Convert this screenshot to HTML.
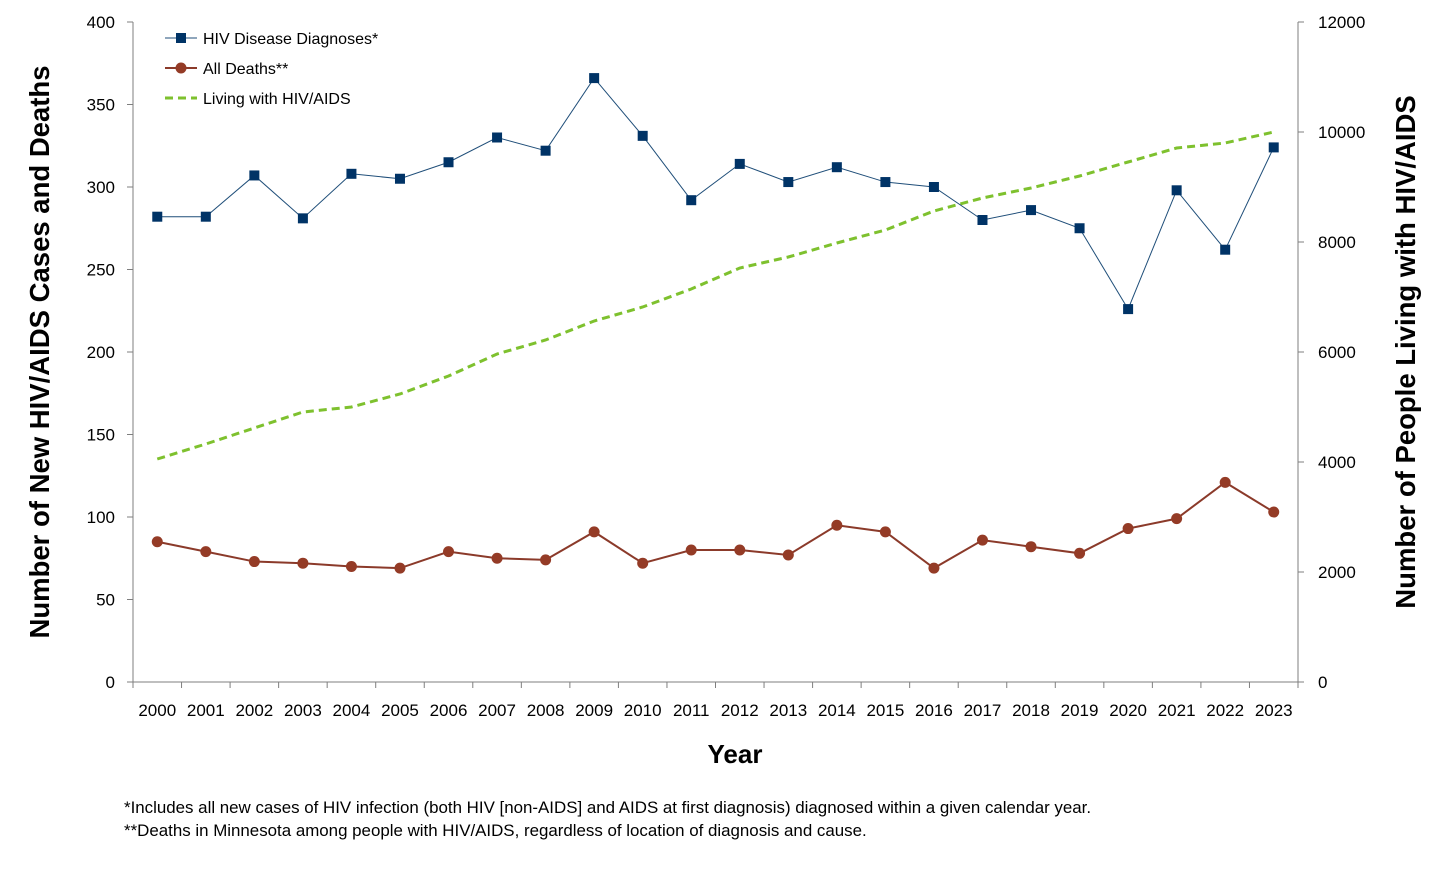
<!DOCTYPE html>
<html><head><meta charset="utf-8"><style>
body{margin:0;background:#fff;width:1440px;height:864px;overflow:hidden}
text{font-family:"Liberation Sans",sans-serif}
</style></head><body>
<svg width="1440" height="864" xmlns="http://www.w3.org/2000/svg" id="s">
<g stroke="#7f7f7f" stroke-width="1" fill="none">
<line x1="133" y1="22" x2="133" y2="682"/>
<line x1="1298" y1="22" x2="1298" y2="682"/>
<line x1="133" y1="682" x2="1298" y2="682"/>
</g>
<g id="ticks" stroke="#7f7f7f"></g>
<g id="lab" font-size="17" fill="#000"></g>
<text x="735" y="763" font-size="26" font-weight="bold" text-anchor="middle">Year</text>
<text transform="translate(49,352) rotate(-90)" font-size="27.5" font-weight="bold" text-anchor="middle">Number of New HIV/AIDS Cases and Deaths</text>
<text transform="translate(1415,352) rotate(-90)" font-size="27.5" font-weight="bold" text-anchor="middle">Number of People Living with HIV/AIDS</text>
<text x="124" y="813" font-size="16.9">*Includes all new cases of HIV infection (both HIV [non-AIDS] and AIDS at first diagnosis) diagnosed within a given calendar year.</text>
<text x="124" y="836" font-size="16.9">**Deaths in Minnesota among people with HIV/AIDS, regardless of location of diagnosis and cause.</text>
<g id="series"></g>
<g font-size="16">
<line x1="165" y1="38" x2="197" y2="38" stroke="#1f4e79"/><rect x="176" y="33" width="10" height="10" fill="#003366"/>
<text x="203" y="44">HIV Disease Diagnoses*</text>
<line x1="165" y1="68" x2="197" y2="68" stroke="#8b3a2a" stroke-width="2"/><circle cx="181" cy="68" r="5.5" fill="#943b26"/>
<text x="203" y="74">All Deaths**</text>
<line x1="165" y1="98" x2="197" y2="98" stroke="#7ec12e" stroke-width="3" stroke-dasharray="8,5"/>
<text x="203" y="104">Living with HIV/AIDS</text>
</g>
</svg>
<script>
var ns="http://www.w3.org/2000/svg";
function el(p,t,a,txt){var e=document.createElementNS(ns,t);for(var k in a)e.setAttribute(k,a[k]);if(txt!=null)e.textContent=txt;document.getElementById(p).appendChild(e);return e;}
var sp=(1298-133)/24;
for(var i=0;i<=24;i++)el("ticks","line",{x1:133+sp*i,y1:682,x2:133+sp*i,y2:688});
for(var v=0;v<=400;v+=50){var y=682-v*1.65;el("ticks","line",{x1:127,y1:y,x2:133,y2:y});el("lab","text",{x:115,y:y+6,"text-anchor":"end"},v);}
for(var v=0;v<=12000;v+=2000){var y=682-v*0.055;el("ticks","line",{x1:1298,y1:y,x2:1304,y2:y});el("lab","text",{x:1318,y:y+6},v);}
for(var i=0;i<24;i++)el("lab","text",{x:133+sp*(i+0.5),y:716,"text-anchor":"middle"},2000+i);
var hiv=[282,282,307,281,308,305,315,330,322,366,331,292,314,303,312,303,300,280,286,275,226,298,262,324];
var de=[85,79,73,72,70,69,79,75,74,91,72,80,80,77,95,91,69,86,82,78,93,99,121,103];
var lv=[459,444,428,412,407,394,376,354,340,321,307,289,268,257,243,230,211,198,188,176,162,148,143,132];
function X(i){return 133+sp*(i+0.5);}
el("series","polyline",{points:lv.map((y,i)=>X(i)+","+y).join(" "),fill:"none",stroke:"#7ec12e","stroke-width":3,"stroke-dasharray":"8,5"});
el("series","polyline",{points:hiv.map((v,i)=>X(i)+","+(682-v*1.65)).join(" "),fill:"none",stroke:"#1f4e79","stroke-width":1});
hiv.forEach((v,i)=>el("series","rect",{x:X(i)-5,y:682-v*1.65-5,width:10,height:10,fill:"#003366"}));
el("series","polyline",{points:de.map((v,i)=>X(i)+","+(682-v*1.65)).join(" "),fill:"none",stroke:"#8b3a2a","stroke-width":2});
de.forEach((v,i)=>el("series","circle",{cx:X(i),cy:682-v*1.65,r:5.5,fill:"#943b26"}));
</script>
</body></html>
